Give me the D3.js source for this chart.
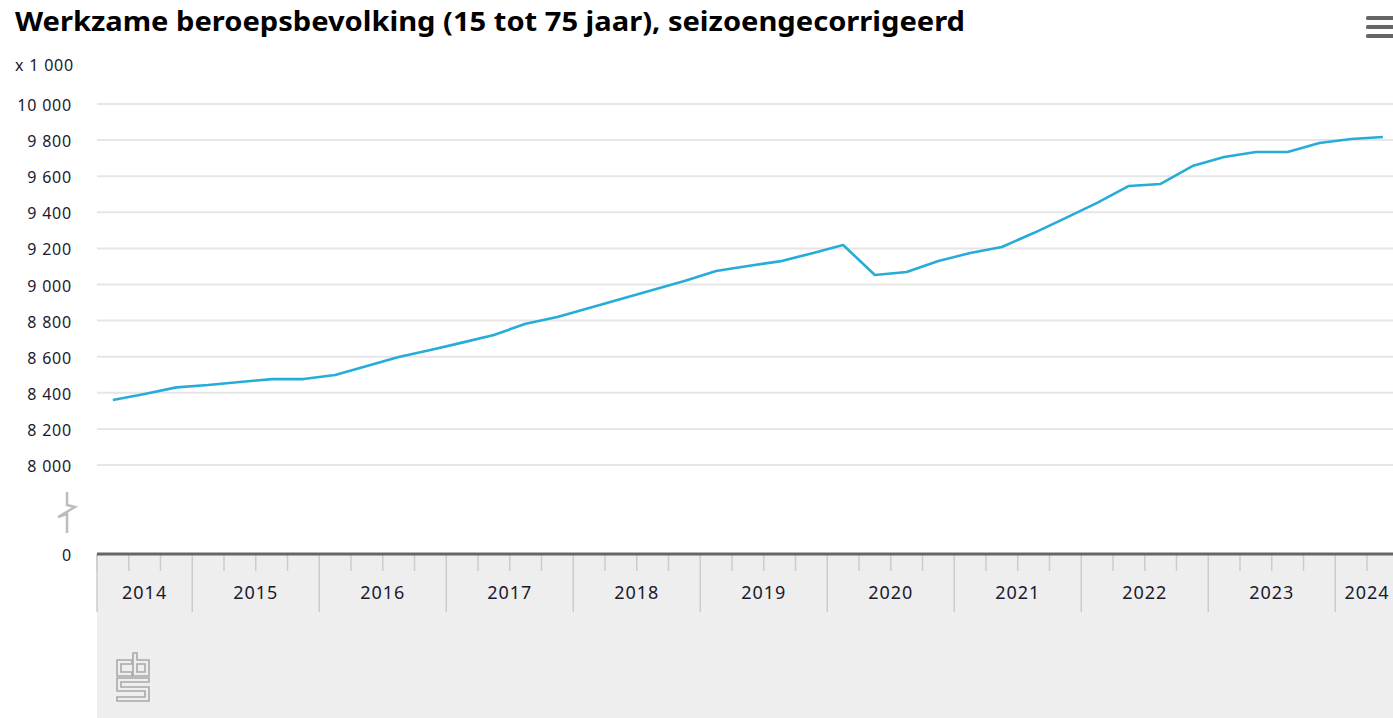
<!DOCTYPE html>
<html>
<head>
<meta charset="utf-8">
<script src="https://cdn.jsdelivr.net/npm/d3@7"></script>
<style>
  html, body { margin: 0; padding: 0; background: #fff; }
  svg { display: block; font-family: "Noto Sans", "DejaVu Sans", sans-serif; }
</style>
</head>
<body>
<svg id="chart" width="1393" height="718"></svg>
<script>
// ---- data ----
const title = "Werkzame beroepsbevolking (15 tot 75 jaar), seizoengecorrigeerd";
const unitLabel = "x 1 000";
const years = [2014, 2015, 2016, 2017, 2018, 2019, 2020, 2021, 2022, 2023, 2024];
const quarters = [
  "2014K2","2014K3","2014K4",
  "2015K1","2015K2","2015K3","2015K4",
  "2016K1","2016K2","2016K3","2016K4",
  "2017K1","2017K2","2017K3","2017K4",
  "2018K1","2018K2","2018K3","2018K4",
  "2019K1","2019K2","2019K3","2019K4",
  "2020K1","2020K2","2020K3","2020K4",
  "2021K1","2021K2","2021K3","2021K4",
  "2022K1","2022K2","2022K3","2022K4",
  "2023K1","2023K2","2023K3","2023K4",
  "2024K1","2024K2"
];
const values = [
  8360, 8393, 8430,
  8443, 8460, 8476, 8476,
  8499, 8548, 8598, 8637,
  8678, 8720, 8783, 8820,
  8870, 8920, 8970, 9020,
  9075, 9103, 9128, 9172,
  9219, 9053, 9069, 9130,
  9174, 9208, 9285, 9368,
  9452, 9546, 9557, 9656,
  9706, 9734, 9734, 9784,
  9806, 9817
];
const yTicks = [0, 8000, 8200, 8400, 8600, 8800, 9000, 9200, 9400, 9600, 9800, 10000];

// ---- layout ----
const svg = d3.select("#chart");
const W = 1393, H = 718;
const plotLeft = 97, quarterW = 31.75;
const plotRight = plotLeft + quarters.length * quarterW;
const axisY = 554;

const x = d3.scaleBand().domain(quarters).range([plotLeft, plotRight]).padding(0);
// broken axis: 0 at bottom, 8000..10000 above the break
const y = d3.scaleLinear().domain([0, 8000, 10000]).range([axisY, 465, 104]);

const fmt = d3.formatLocale({decimal: ",", thousands: " ", grouping: [3], currency: ["€", ""]}).format(",d");
const textCol = "#1a1a2e";

// Title
const t = svg.append("text")
  .attr("x", 15).attr("y", 31)
  .attr("font-size", 27).attr("font-weight", 700)
  .attr("fill", "#000")
  .text(title);
t.attr("textLength", 950).attr("lengthAdjust", "spacingAndGlyphs");

// menu icon
[18, 27, 36].forEach(yy => {
  svg.append("rect").attr("x", 1366).attr("y", yy - 2).attr("width", 30).attr("height", 4)
    .attr("rx", 1.5).attr("fill", "#666");
});

// unit label
svg.append("text").attr("x", 15).attr("y", 71)
  .attr("font-size", 16).attr("letter-spacing", 0.8).attr("fill", textCol).text(unitLabel);

// gridlines
const gridTicks = yTicks.filter(d => d >= 8000);
svg.append("g").selectAll("line").data(gridTicks).join("line")
  .attr("x1", plotLeft).attr("x2", W)
  .attr("y1", d => y(d)).attr("y2", d => y(d))
  .attr("stroke", "#e6e6e6").attr("stroke-width", 2);

// y labels
svg.append("g").selectAll("text").data(yTicks).join("text")
  .attr("x", 72).attr("y", d => y(d) + 7)
  .attr("text-anchor", "end").attr("font-size", 16).attr("letter-spacing", 0.8).attr("fill", textCol)
  .text(d => fmt(d));

// axis break symbol
svg.append("path")
  .attr("d", "M67,492 V505 L75,507 L58,517 L67,514 V533")
  .attr("fill", "none").attr("stroke", "#bdbdbd").attr("stroke-width", 2.5)
  .attr("stroke-linejoin", "miter");

// x axis background
svg.append("rect").attr("x", plotLeft).attr("y", axisY).attr("width", W - plotLeft).attr("height", H - axisY)
  .attr("fill", "#eeeeee");

// quarter ticks
svg.append("g").selectAll("line").data(quarters.filter(q => !q.endsWith("K1"))).join("line")
  .attr("x1", d => x(d)).attr("x2", d => x(d))
  .attr("y1", axisY).attr("y2", 571)
  .attr("stroke", "#cccccc").attr("stroke-width", 1.5);

// year boundaries
const yearStart = yr => {
  const q1 = yr + "K1";
  return quarters.includes(q1) ? x(q1) : x(quarters.find(q => q.startsWith(String(yr))));
};
const yearEnd = yr => {
  const qs = quarters.filter(q => q.startsWith(String(yr)));
  return x(qs[qs.length - 1]) + x.bandwidth();
};
svg.append("g").selectAll("line").data(years).join("line")
  .attr("x1", d => yearStart(d)).attr("x2", d => yearStart(d))
  .attr("y1", axisY).attr("y2", 612)
  .attr("stroke", "#cccccc").attr("stroke-width", 1.5);

// year labels
svg.append("g").selectAll("text").data(years).join("text")
  .attr("x", d => (yearStart(d) + yearEnd(d)) / 2)
  .attr("y", 599)
  .attr("text-anchor", "middle").attr("font-size", 18).attr("letter-spacing", 1)
  .attr("fill", textCol)
  .text(d => d);

// axis line
svg.append("line").attr("x1", plotLeft).attr("x2", W).attr("y1", axisY).attr("y2", axisY)
  .attr("stroke", "#666").attr("stroke-width", 3);

// data line
const line = d3.line().x((d, i) => x(quarters[i]) + x.bandwidth() / 2).y(d => y(d));
svg.append("path").datum(values)
  .attr("d", line).attr("fill", "none")
  .attr("stroke", "#27acd9").attr("stroke-width", 2.6).attr("stroke-linejoin", "round");

// CBS logo
const logo = svg.append("g").attr("fill", "none").attr("stroke", "#a9a9a9").attr("stroke-width", 1.6);
logo.append("path").attr("d", "M132,660 H117 V676 H132 V672 H121 V664 H132 Z");
logo.append("path").attr("d", "M133,653 H137 V660 H149 V676 H133 Z");
logo.append("path").attr("d", "M137,664 H145 V672 H137 Z");
logo.append("path").attr("d", "M117,678 H149 V682 H121 V687 H149 V701 H117 V697 H145 V691 H117 Z");
</script>
</body>
</html>
